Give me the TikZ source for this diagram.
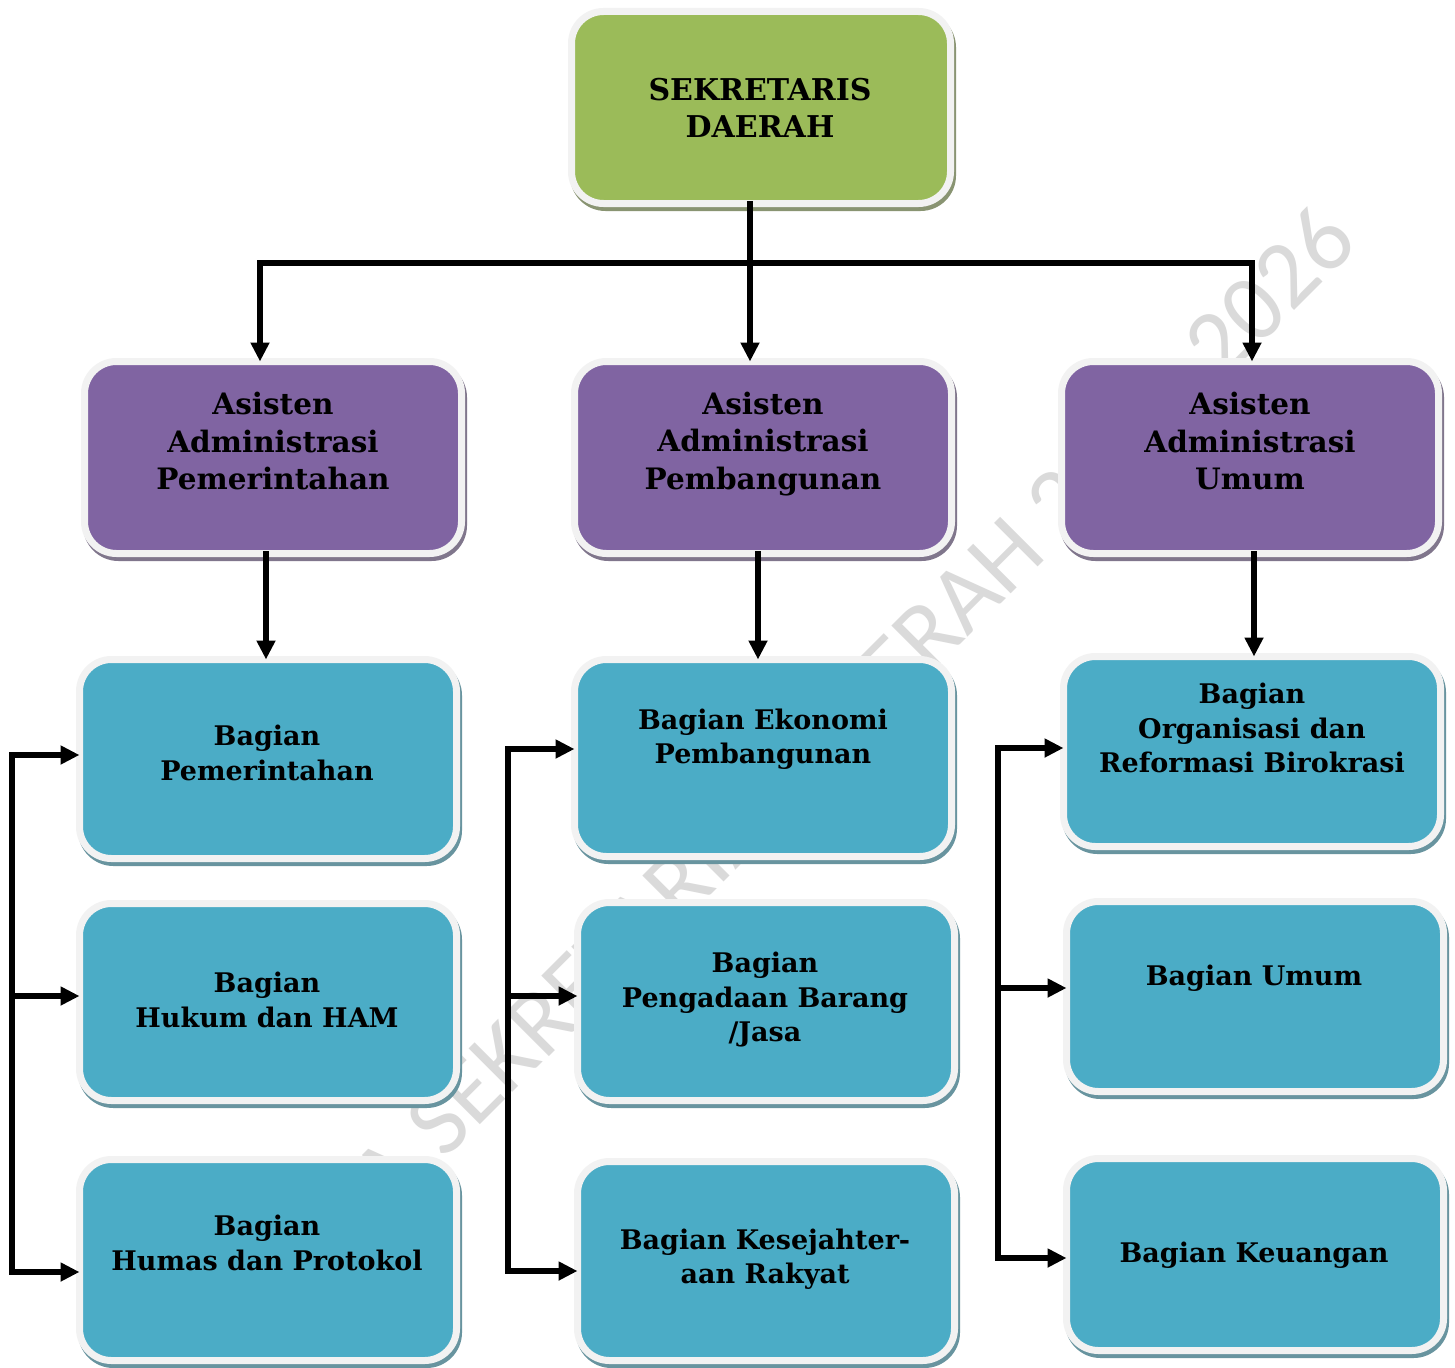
\documentclass[tikz,border=0pt]{standalone}
\usepackage{fontspec}
\newfontfamily\wmfont{Carlito}
\newfontfamily\bkfont{DejaVu Serif}
\usetikzlibrary{arrows.meta,shadows,calc}
\definecolor{cgreen}{HTML}{9BBB59}
\definecolor{cpurple}{HTML}{8064A2}
\definecolor{cteal}{HTML}{4BACC6}
\definecolor{boxrim}{HTML}{F2F2F2}
\definecolor{wmgray}{HTML}{DADADA}
\colorlet{sgreen}{cgreen!35!gray}
\colorlet{spurple}{cpurple!35!gray}
\colorlet{steal}{cteal!45!gray}
\tikzset{
  boxbase/.style={rectangle, rounded corners=32pt, draw=boxrim, line width=7pt,
    inner sep=0pt, outer sep=0pt},
  gbox/.style={boxbase, fill=cgreen, drop shadow={shadow xshift=2pt, shadow yshift=-4pt,
    fill=sgreen, draw=sgreen, line width=7pt, opacity=1}},
  pbox/.style={boxbase, fill=cpurple, minimum width=377pt, minimum height=192pt,
    drop shadow={shadow xshift=2pt, shadow yshift=-4pt,
    fill=spurple, draw=spurple, line width=7pt, opacity=1}},
  tbox/.style={boxbase, fill=cteal, minimum width=377pt,
    drop shadow={shadow xshift=2pt, shadow yshift=-4pt,
    fill=steal, draw=steal, line width=7pt, opacity=1}},
  toptxt/.style={align=center, inner sep=0pt, font=\bkfont\bfseries\fontsize{30}{37}\selectfont},
  ptxt/.style={align=center, inner sep=0pt, font=\bkfont\bfseries\fontsize{29.5}{37.5}\selectfont},
  ttxt/.style={align=center, inner sep=0pt, font=\bkfont\bfseries\fontsize{27}{34.5}\selectfont},
  wm/.style={inner sep=0pt, text=wmgray, font=\wmfont\fontsize{96}{96}\selectfont},
  conn/.style={line width=5.5pt, line cap=rect, black},
  arr/.style={conn, -{Triangle[length=19pt,width=18pt]}},
}
\begin{document}
\begin{tikzpicture}[x=1pt,y=-1pt]
\useasboundingbox (0,0) rectangle (1455,1367);
\fill[white] (0,0) rectangle (1455,1367);

% watermark
\node[wm, rotate=45, anchor=east] (wmark) at (1338,222) {RENSTRA SEKRETARIAT DAERAH 2021-2026};

% top
\node[gbox, minimum width=379pt, minimum height=192pt] (top) at (761,107.5) {};
% assistants
\node[pbox] (a1) at (273,457.5) {};
\node[pbox] (a2) at (763,457.5) {};
\node[pbox] (a3) at (1250,457.5) {};
% sections
\node[tbox, minimum height=199pt] (b11) at (268,759) {};
\node[tbox, minimum height=197pt] (b12) at (268,1002) {};
\node[tbox, minimum height=201pt] (b13) at (268,1260) {};
\node[tbox, minimum height=197pt] (b21) at (763,758) {};
\node[tbox, minimum height=198pt] (b22) at (766,1001.5) {};
\node[tbox, minimum height=199pt] (b23) at (766,1261) {};
\node[tbox, minimum height=190pt] (b31) at (1252,751.5) {};
\node[tbox, minimum height=190pt] (b32) at (1255,996.5) {};
\node[tbox, minimum height=192pt] (b33) at (1255,1254.5) {};

% texts
\node[toptxt] (t0) at (760,108) {SEKRETARIS\\DAERAH};
\node[ptxt] (ta1) at (273,441) {Asisten\\Administrasi\\Pemerintahan};
\node[ptxt] (ta2) at (763,444) {Asisten\\Administrasi\\Pembangunan};
\node[ptxt] (ta3) at (1250,441) {Asisten\\Administrasi\\Umum};
\node[ttxt] (tb11) at (267,753) {Bagian\\Pemerintahan};
\node[ttxt] (tb12) at (267,1000) {Bagian\\Hukum dan HAM};
\node[ttxt] (tb13) at (267,1243) {Bagian\\Humas dan Protokol};
\node[ttxt] (tb21) at (763,739) {Bagian Ekonomi\\Pembangunan};
\node[ttxt] (tb22) at (765,1000) {Bagian\\Pengadaan Barang\\/Jasa};
\node[ttxt] (tb23) at (765,1259) {Bagian Kesejahter-\\aan Rakyat};
\node[ttxt] (tb31) at (1252,728) {Bagian\\Organisasi dan\\Reformasi Birokrasi};
\node[ttxt] (tb32) at (1254,978) {Bagian Umum};
\node[ttxt] (tb33) at (1254,1255) {Bagian Keuangan};

% connectors: top level
\coordinate (j0) at (750,263);
\coordinate (jl) at (260,263);
\coordinate (jr) at (1252,263);
\draw[conn] (j0 |- top.south) -- (j0);
\draw[conn] (jl) -- (jr);
\draw[arr] (jl) -- (jl |- a1.north);
\draw[arr] (j0) -- (j0 |- a2.north);
\draw[arr] (jr) -- (jr |- a3.north);

% assistants to first sections
\coordinate (k1) at (266,0);
\coordinate (k2) at (758,0);
\coordinate (k3) at (1254,0);
\draw[arr] (k1 |- a1.south) -- (k1 |- b11.north);
\draw[arr] (k2 |- a2.south) -- (k2 |- b21.north);
\draw[arr] (k3 |- a3.south) -- (k3 |- b31.north);

% left bracket
\coordinate (l1) at (12,755);
\coordinate (l2) at (12,996);
\coordinate (l3) at (12,1272);
\draw[conn] (l1) -- (l3);
\draw[arr] (l1) -- (l1 -| b11.west);
\draw[arr] (l2) -- (l2 -| b12.west);
\draw[arr] (l3) -- (l3 -| b13.west);

% middle bracket
\coordinate (m1) at (508,749);
\coordinate (m2) at (508,996);
\coordinate (m3) at (508,1271);
\draw[conn] (m1) -- (m3);
\draw[arr] (m1) -- (m1 -| b21.west);
\draw[arr] (m2) -- (m2 -| b22.west);
\draw[arr] (m3) -- (m3 -| b23.west);

% right bracket
\coordinate (r1) at (998,748);
\coordinate (r2) at (998,988);
\coordinate (r3) at (998,1258);
\draw[conn] (r1) -- (r3);
\draw[arr] (r1) -- (r1 -| b31.west);
\draw[arr] (r2) -- (r2 -| b32.west);
\draw[arr] (r3) -- (r3 -| b33.west);
\end{tikzpicture}
\end{document}
